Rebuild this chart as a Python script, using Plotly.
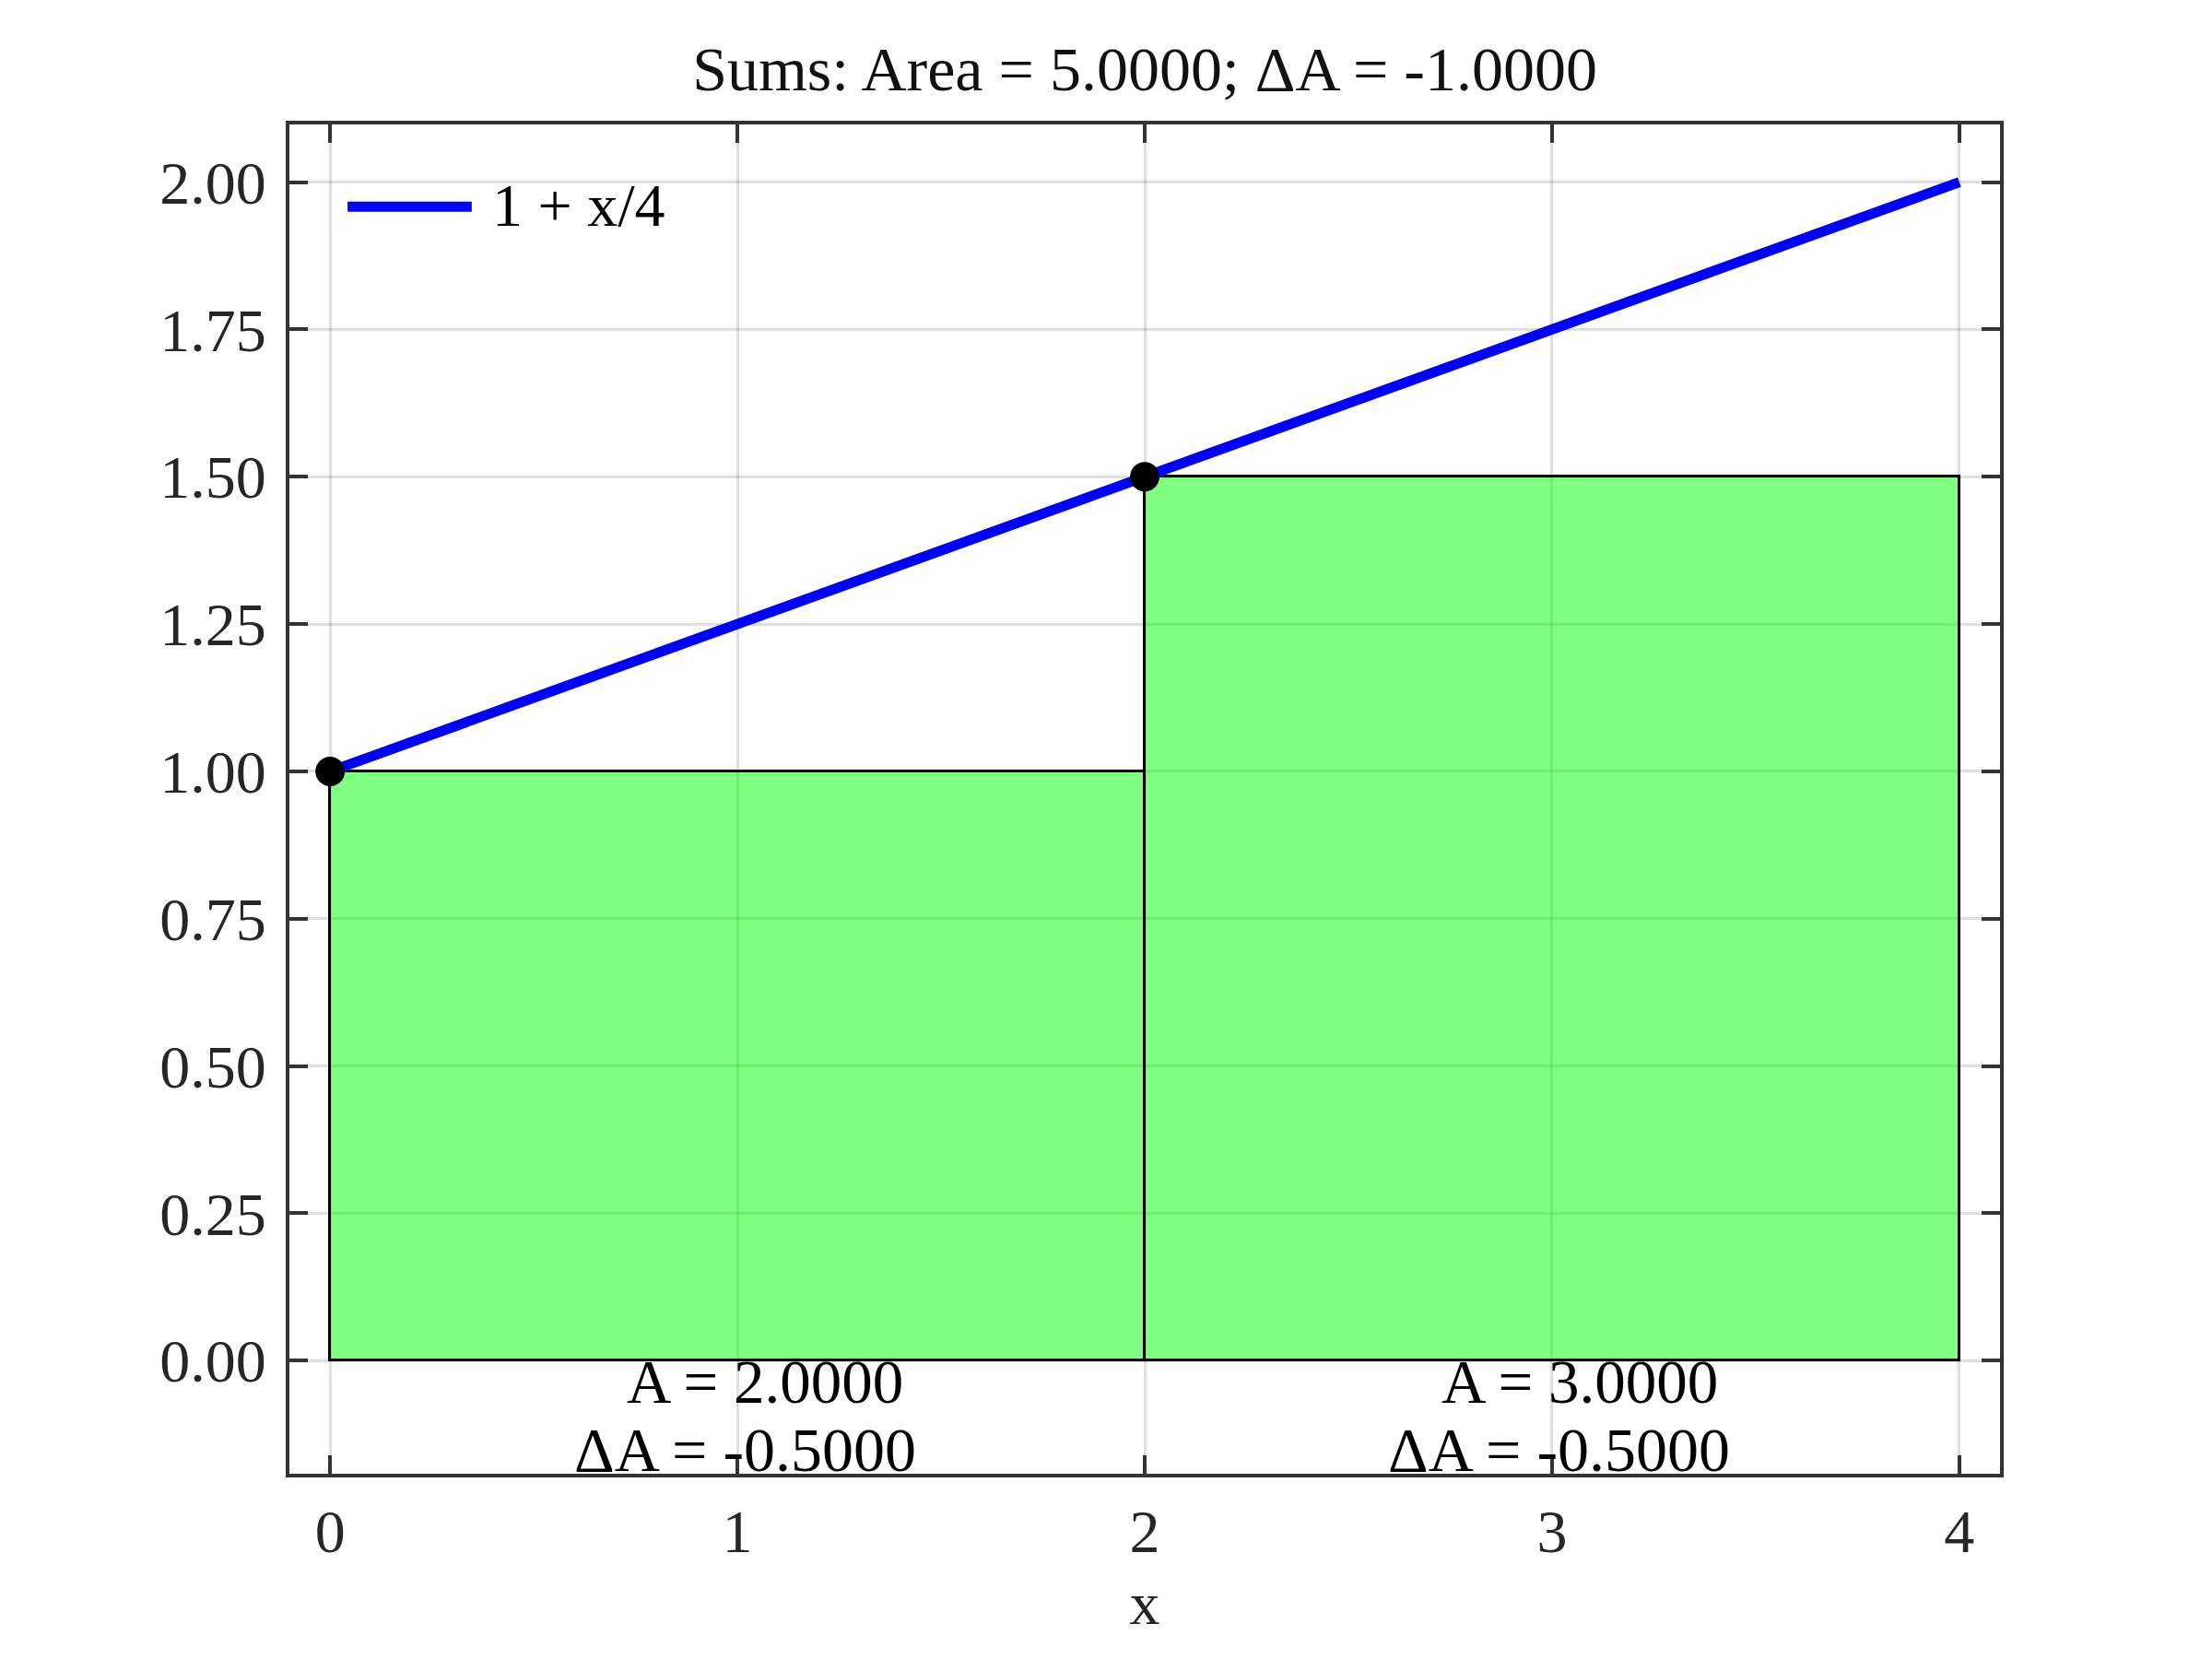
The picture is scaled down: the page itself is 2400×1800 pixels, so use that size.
import plotly.graph_objects as go

# ---- data ----
x_curve = [0, 1, 2, 3, 4]
y_curve = [1.0, 1.25, 1.5, 1.75, 2.0]
rect_left = [0, 2]
rect_width = [2, 2]
rect_height = [1.0, 1.5]
rect_area = [2.0, 3.0]
rect_dA = [-0.5, -0.5]
sample_x = [0, 2]
sample_y = [1.0, 1.5]
x_ticks = [0, 1, 2, 3, 4]
y_ticks = [0.0, 0.25, 0.5, 0.75, 1.0, 1.25, 1.5, 1.75, 2.0]
total_area = 5.0
total_dA = -1.0

FONT = "Liberation Serif"
FS = 66

fig = go.Figure()

centers = [l + w / 2 for l, w in zip(rect_left, rect_width)]
fig.add_trace(go.Bar(
    x=centers, y=rect_height, width=rect_width,
    marker=dict(color="rgba(0,255,0,0.5)", line=dict(color="black", width=3)),
    showlegend=False, hoverinfo="skip",
))
fig.add_trace(go.Scatter(
    x=x_curve, y=y_curve, mode="lines",
    line=dict(color="#0000ff", width=11), name="1 + x/4", showlegend=False,
))
fig.add_trace(go.Scatter(
    x=sample_x, y=sample_y, mode="markers",
    marker=dict(color="black", size=32), showlegend=False,
))

for c, a, d in zip(centers, rect_area, rect_dA):
    fig.add_annotation(x=c, y=0, xref="x", yref="y", text=f"A = {a:.4f}",
                       showarrow=False, xanchor="center", yanchor="middle",
                       yshift=-23, xshift=30, font=dict(family=FONT, size=67, color="black"))
    fig.add_annotation(x=c, y=0, xref="x", yref="y", text=f"ΔA = {d:.4f}",
                       showarrow=False, xanchor="center", yanchor="middle",
                       yshift=-97, xshift=8, font=dict(family=FONT, size=68, color="black"))

# legend (custom, to reproduce long line sample)
fig.add_shape(type="line", xref="paper", yref="paper", x0=0.034, x1=0.1066, y0=0.939, y1=0.939,
              line=dict(color="#0000ff", width=11))
fig.add_annotation(x=0.1175, y=0.940, xref="paper", yref="paper", text="1 + x/4",
                   showarrow=False, xanchor="left", yanchor="middle",
                   font=dict(family=FONT, size=FS, color="black"))

axis_common = dict(
    showline=True, linecolor="#333333", linewidth=4, mirror="ticks",
    ticks="inside", ticklen=20, tickwidth=4, tickcolor="#333333",
    showgrid=True, gridcolor="rgba(0,0,0,0.13)", gridwidth=3,
    zeroline=False, tickfont=dict(family=FONT, size=FS, color="#262626"),
)

fig.update_layout(
    width=2400, height=1800,
    margin=dict(l=306, r=238, t=127, b=209),
    paper_bgcolor="white", plot_bgcolor="white",
    title=dict(text=f"Sums: Area = {total_area:.4f}; ΔA = {total_dA:.4f}",
               x=0.5, xref="paper", xanchor="center", y=0.963, yanchor="middle",
               font=dict(family=FONT, size=68, color="#111111")),
    xaxis=dict(range=[-0.1, 4.1], tickvals=x_ticks, ticktext=[str(v) for v in x_ticks],
               title=dict(text="x", font=dict(family=FONT, size=FS, color="#262626"), standoff=20),
               ticklabelstandoff=2, **axis_common),
    yaxis=dict(range=[-0.192, 2.098], tickvals=y_ticks, ticktext=[f"{v:.2f}" for v in y_ticks],
               ticklabelstandoff=8, **axis_common),
    bargap=0,
)

fig.write_html("out.html")
